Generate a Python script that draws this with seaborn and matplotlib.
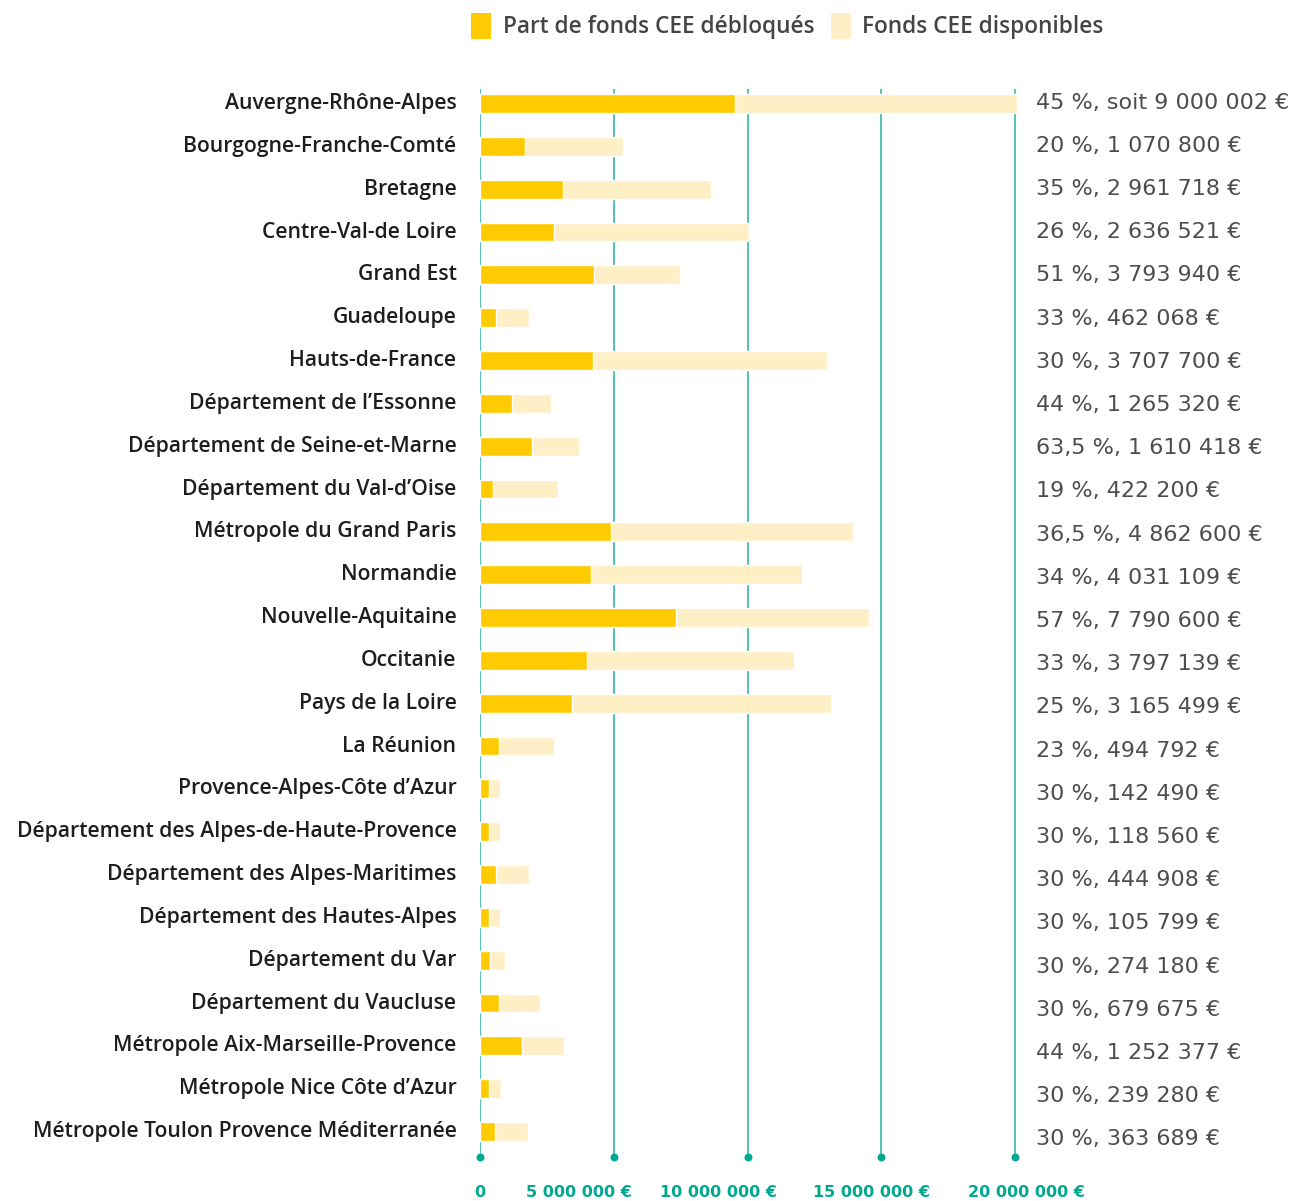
import matplotlib
matplotlib.use("Agg")
import matplotlib.pyplot as plt
import matplotlib.transforms as mtransforms
from matplotlib.patches import Patch
import seaborn as sns
import pandas as pd

# ---------------- data ----------------
territoires = [
    "Auvergne-Rhône-Alpes", "Bourgogne-Franche-Comté", "Bretagne", "Centre-Val-de Loire",
    "Grand Est", "Guadeloupe", "Hauts-de-France", "Département de l\u2019Essonne",
    "Département de Seine-et-Marne", "Département du Val-d\u2019Oise", "Métropole du Grand Paris",
    "Normandie", "Nouvelle-Aquitaine", "Occitanie", "Pays de la Loire", "La Réunion",
    "Provence-Alpes-Côte d\u2019Azur", "Département des Alpes-de-Haute-Provence",
    "Département des Alpes-Maritimes", "Département des Hautes-Alpes", "Département du Var",
    "Département du Vaucluse", "Métropole Aix-Marseille-Provence", "Métropole Nice Côte d\u2019Azur",
    "Métropole Toulon Provence Méditerranée",
]
fonds_debloques = [9.51e6, 1.68e6, 3.10e6, 2.76e6, 4.25e6, 0.60e6, 4.22e6, 1.19e6, 1.94e6, 0.49e6,
                   4.89e6, 4.14e6, 7.31e6, 3.99e6, 3.43e6, 0.71e6, 0.34e6, 0.34e6, 0.60e6, 0.34e6,
                   0.37e6, 0.71e6, 1.57e6, 0.34e6, 0.56e6]
fonds_disponibles = [20.05e6, 5.34e6, 8.62e6, 10.07e6, 7.46e6, 1.83e6, 12.95e6, 2.65e6, 3.69e6, 2.91e6,
                     13.92e6, 12.05e6, 14.55e6, 11.72e6, 13.13e6, 2.76e6, 0.75e6, 0.75e6, 1.83e6, 0.75e6,
                     0.93e6, 2.24e6, 3.13e6, 0.78e6, 1.79e6]
annotations = [
    "45 %, soit 9 000 002 €", "20 %, 1 070 800 €", "35 %, 2 961 718 €", "26 %, 2 636 521 €",
    "51 %, 3 793 940 €", "33 %, 462 068 €", "30 %, 3 707 700 €", "44 %, 1 265 320 €",
    "63,5 %, 1 610 418 €", "19 %, 422 200 €", "36,5 %, 4 862 600 €", "34 %, 4 031 109 €",
    "57 %, 7 790 600 €", "33 %, 3 797 139 €", "25 %, 3 165 499 €", "23 %, 494 792 €",
    "30 %, 142 490 €", "30 %, 118 560 €", "30 %, 444 908 €", "30 %, 105 799 €",
    "30 %, 274 180 €", "30 %, 679 675 €", "44 %, 1 252 377 €", "30 %, 239 280 €",
    "30 %, 363 689 €",
]
x_ticks = [0, 5e6, 10e6, 15e6, 20e6]
x_tick_labels = ["0", "5 000 000 €", "10 000 000 €", "15 000 000 €", "20 000 000 €"]
legend_labels = ["Part de fonds CEE débloqués", "Fonds CEE disponibles"]

# ---------------- style ----------------
YELLOW = "#FECB00"
LIGHT = "#FEEFC6"
TEAL = "#4FC4B5"
TEAL_DARK = "#00A88F"
FONT = ["Open Sans", "DejaVu Sans"]
WIDE = ["DejaVu Sans"]

sns.set_theme(style="white")
plt.rcParams["font.family"] = FONT

df = pd.DataFrame({"territoire": territoires,
                   "debloques": fonds_debloques,
                   "disponibles": fonds_disponibles})

fig = plt.figure(figsize=(12.98, 12.01), dpi=100)
ax = fig.add_axes([480 / 1298, 1 - 1157 / 1201, 562 / 1298, (1157 - 89) / 1201])

# gridlines (behind bars)
for t in x_ticks:
    ax.axvline(t, color=TEAL, lw=1.4, zorder=0)

sns.barplot(data=df, x="disponibles", y="territoire", color=LIGHT, width=0.44,
            orient="h", ax=ax, saturation=1, zorder=2)
sns.barplot(data=df, x="debloques", y="territoire", color=YELLOW, width=0.44,
            orient="h", ax=ax, saturation=1, zorder=3)

n = len(territoires)
ax.set_xlim(0, 21e6)
ax.set_ylim(n - 1 + 0.595, -0.339)
for s in ax.spines.values():
    s.set_visible(False)
ax.set_xlabel("")
ax.set_ylabel("")
ax.set_xticks([])
ax.set_yticks(range(n))
ax.set_yticklabels(territoires, fontsize=15.2, color="#1e1e1e", fontweight="semibold")
ax.tick_params(axis="y", length=0, pad=17)
for lbl in ax.get_yticklabels():
    lbl.set_verticalalignment("center")

# dots at bottom of gridlines
ax.scatter(x_ticks, [n - 1 + 0.595] * len(x_ticks), s=22, color=TEAL_DARK,
           clip_on=False, zorder=5)

# x tick labels below
trans = mtransforms.blended_transform_factory(ax.transData, ax.transAxes)
label_offsets_px = [0, -35, -29, -10, 11]
for t, lab, off in zip(x_ticks, x_tick_labels, label_offsets_px):
    tr = trans + mtransforms.ScaledTranslation(off / 100, 0, fig.dpi_scale_trans)
    ax.text(t, -0.0337, lab, transform=tr, ha="center", va="center", family=WIDE,
            fontsize=11.5, fontweight="bold", color=TEAL_DARK, clip_on=False)

# right-side annotations
for i, txt in enumerate(annotations):
    ax.text(20.78e6, i - 0.02 + 0.0086 * i, txt, ha="left", va="center", family=WIDE,
            fontsize=16, color="#4d4d4d", clip_on=False)

# legend
handles = [Patch(facecolor=YELLOW, edgecolor="none"), Patch(facecolor=LIGHT, edgecolor="none")]
fig.legend(handles, legend_labels, loc="center", bbox_to_anchor=(787.5 / 1298, 1 - 26 / 1201),
           ncol=2, frameon=False, prop={"family": FONT, "size": 16.3, "weight": "semibold"},
           labelcolor="#444444",
           handlelength=0.88, handleheight=1.44, handletextpad=0.5, columnspacing=0.75)

fig.savefig("out.png", dpi=100)
